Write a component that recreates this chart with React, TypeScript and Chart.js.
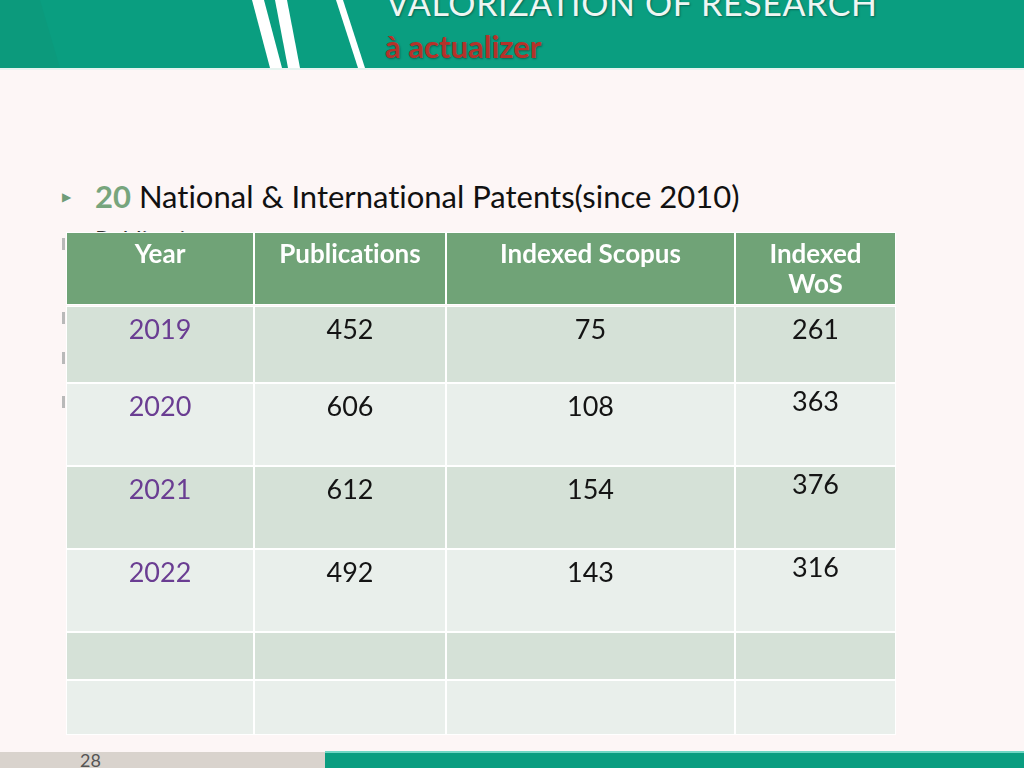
import React, { useEffect, useRef } from "react";
import { Chart, registerables } from "chart.js";

Chart.register(...registerables);

// ---- data ----
const HEADERS = ["Year", "Publications", "Indexed Scopus", "Indexed\nWoS"];
const YEARS = ["2019", "2020", "2021", "2022"];
const PUBLICATIONS = [452, 606, 612, 492];
const SCOPUS = [75, 108, 154, 143];
const WOS = [261, 363, 376, 316];
const EMPTY_ROWS = 2;

// ---- layout (table geometry in px units of the chart's own linear scales) ----
const COL_EDGES = [0, 188, 380, 669, 830];
const ROW_TOPS = [0, 74, 151, 234, 317, 400, 448];
const ROW_BOTTOMS = [73, 151, 234, 317, 400, 448, 503];
const ROW_COLORS = ["#70a377", "#d5e1d7", "#e9efeb", "#d5e1d7", "#e9efeb", "#d5e1d7", "#e9efeb"];

const FONT = "Lato, 'Open Sans', sans-serif";

function TableChart() {
  const ref = useRef<HTMLCanvasElement | null>(null);
  useEffect(() => {
    if (!ref.current) return;
    const rowCount = 1 + YEARS.length + EMPTY_ROWS;
    const rowsText: string[][] = [
      HEADERS,
      ...YEARS.map((y, i) => [y, String(PUBLICATIONS[i]), String(SCOPUS[i]), String(WOS[i])]),
    ];
    const datasets = [];
    for (let r = 0; r < rowCount; r++) {
      const top = ROW_TOPS[r];
      const bottom = ROW_BOTTOMS[r];
      const data = [];
      for (let c = 0; c < COL_EDGES.length - 1; c++) {
        data.push({ y: (top + bottom) / 2, x: [COL_EDGES[c], COL_EDGES[c + 1]] });
      }
      datasets.push({
        label: "row" + r,
        data,
        backgroundColor: ROW_COLORS[r],
        borderColor: "#ffffff",
        borderWidth: 1,
        borderSkipped: false,
        inflateAmount: 0,
        barThickness: bottom - top,
        grouped: false,
      });
    }

    const textPlugin = {
      id: "cellText",
      afterDatasetsDraw(chart: any) {
        const ctx = chart.ctx;
        const xs = chart.scales.x;
        const ys = chart.scales.y;
        ctx.save();
        ctx.textAlign = "center";
        ctx.textBaseline = "middle";
        rowsText.forEach((row, r) => {
          row.forEach((txt, c) => {
            const cx = xs.getPixelForValue((COL_EDGES[c] + COL_EDGES[c + 1]) / 2);
            if (r === 0) {
              ctx.fillStyle = "#ffffff";
              ctx.font = `bold 26px ${FONT}`;
              const lines = txt.split("\n");
              lines.forEach((ln, k) => {
                const cy = ys.getPixelForValue(ROW_TOPS[0] + 23 + k * 30);
                ctx.fillText(ln, cx, cy);
              });
            } else {
              ctx.font = `27px ${FONT}`;
              ctx.fillStyle = c === 0 ? "#6a3d92" : "#141414";
              const off = c === 3 && r > 1 ? 19 : 24;
              const cy = ys.getPixelForValue(ROW_TOPS[r] + off);
              ctx.fillText(txt, cx, cy);
            }
          });
        });
        ctx.restore();
      },
    };

    const chart = new Chart(ref.current, {
      type: "bar",
      data: { datasets } as any,
      options: {
        indexAxis: "y",
        animation: false,
        responsive: false,
        devicePixelRatio: 1,
        layout: { padding: 0 },
        plugins: { legend: { display: false }, tooltip: { enabled: false }, title: { display: false } },
        scales: {
          x: { type: "linear", min: 0, max: 830, display: false, offset: false, grid: { display: false } },
          y: { type: "linear", min: 0, max: 503, reverse: true, display: false, offset: false, grid: { display: false } },
        },
      } as any,
      plugins: [textPlugin],
    });
    return () => chart.destroy();
  }, []);
  return <canvas ref={ref} width={830} height={503} style={{ display: "block" }} />;
}

export default function App() {
  return (
    <div
      style={{
        position: "fixed",
        left: 0,
        top: 0,
        width: 1024,
        height: 768,
        background: "#fdf6f6",
        overflow: "hidden",
        fontFamily: FONT,
        fontVariantLigatures: "none",
      }}
    >
      {/* top banner */}
      <svg width={1024} height={70} style={{ position: "absolute", left: 0, top: 0 }}>
        <rect x={0} y={0} width={1024} height={68} fill="#0a9e80" />
        <polygon points="0,0 40,0 60,68 0,68" fill="#0c9a7c" />
        <polygon points="252,0 264,0 282,68 270,68" fill="#ffffff" />
        <polygon points="275,0 287,0 300,68 288,68" fill="#ffffff" />
        <polygon points="336,0 343,0 365,68 358,68" fill="#ffffff" />
        <rect x={0} y={68} width={1024} height={2} fill="#e6f3ef" />
      </svg>
      <div
        style={{
          position: "absolute",
          left: 386,
          top: -16,
          fontSize: 34,
          lineHeight: "38px",
          color: "#eef6f3",
          whiteSpace: "nowrap",
          textShadow: "1px 1px 2px rgba(0,0,0,0.35)",
          letterSpacing: 0.6,
        }}
      >
        VALORIZATION OF RESEARCH
      </div>
      <div
        style={{
          position: "absolute",
          left: 385,
          top: 28,
          fontSize: 31,
          lineHeight: "36px",
          fontWeight: 700,
          color: "#b5322a",
          whiteSpace: "nowrap",
          textShadow: "1px 1px 2px rgba(0,0,0,0.35)",
        }}
      >
        à actualizer
      </div>

      {/* bullet */}
      <div style={{ position: "absolute", left: 62, top: 189, fontSize: 12, color: "#6f9c78" }}>▶</div>
      <div
        style={{
          position: "absolute",
          left: 95,
          top: 177,
          fontSize: 31,
          lineHeight: "38px",
          color: "#111",
          whiteSpace: "nowrap",
        }}
      >
        <span style={{ color: "#77a57d", fontWeight: 700 }}>20</span> National &amp; International Patents(since 2010)
      </div>
      {/* text hidden behind the table */}
      <div style={{ position: "absolute", left: 95, top: 224, fontSize: 24, color: "#333", whiteSpace: "nowrap" }}>
        Publications
      </div>
      {[238, 312, 352, 396].map((t) => (
        <div key={t} style={{ position: "absolute", left: 62, top: t, width: 3, height: 12, background: "#b9b9b9" }} />
      ))}

      {/* table */}
      <div style={{ position: "absolute", left: 66, top: 232 }}>
        <TableChart />
      </div>

      {/* footer */}
      <div style={{ position: "absolute", left: 0, top: 752, width: 325, height: 16, background: "#d9d3cd" }} />
      <div style={{ position: "absolute", left: 325, top: 751, width: 699, height: 2, background: "#6fd6c4" }} />
      <div style={{ position: "absolute", left: 325, top: 753, width: 699, height: 15, background: "#0a9d80" }} />
      <div
        style={{
          position: "absolute",
          left: 80,
          top: 749,
          fontSize: 18,
          lineHeight: "22px",
          color: "#555",
        }}
      >
        28
      </div>
    </div>
  );
}
